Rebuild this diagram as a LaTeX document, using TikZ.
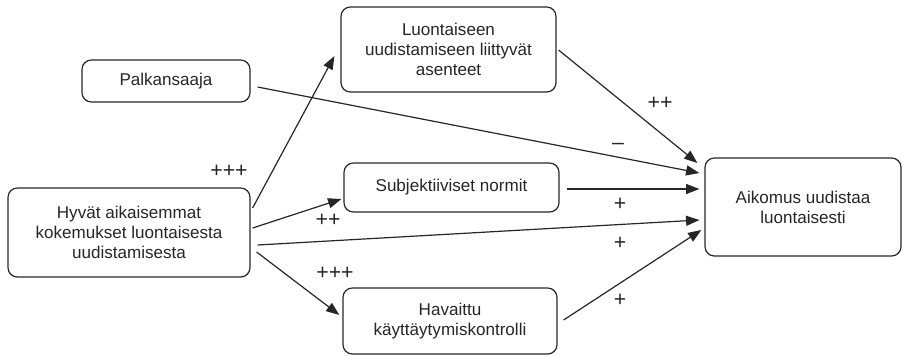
\documentclass[tikz,border=0pt]{standalone}
\usepackage{fontspec}
\setmainfont{Liberation Sans}
\usetikzlibrary{calc,arrows.meta}
\begin{document}
\begin{tikzpicture}[x=0.75pt,y=-0.75pt,
  box/.style={draw=black!85,line width=0.9pt,rounded corners=7pt,align=center,
    font=\fontsize{12.8}{15}\selectfont,text=black!85,inner sep=0pt},
  conn/.style={draw=black!85,line width=0.9pt,-{Triangle[length=10pt,width=7.5pt]}},
  lbl/.style={font=\fontsize{16}{18}\selectfont,text=black!85}]
\useasboundingbox (0,0) rectangle (903,355);
\node[box,minimum width=168*0.75pt,minimum height=42*0.75pt] (pal) at (166,81) {Palkansaaja};
\node[box,minimum width=215*0.75pt,minimum height=85*0.75pt] (luo) at (448.5,49.5) {Luontaiseen\\uudistamiseen liittyvät\\asenteet};
\node[box,minimum width=215*0.75pt,minimum height=49*0.75pt] (sub) at (451.5,187.5) {Subjektiiviset normit};
\node[box,minimum width=242*0.75pt,minimum height=89*0.75pt] (hyv) at (129,232.5) {Hyvät aikaisemmat\\kokemukset luontaisesta\\uudistamisesta};
\node[box,minimum width=214*0.75pt,minimum height=66*0.75pt] (hav) at (450,321) {Havaittu\\käyttäytymiskontrolli};
\node[box,minimum width=196*0.75pt,minimum height=98*0.75pt] (aik) at (803,207) {Aikomus uudistaa\\luontaisesti};

\draw[conn] ($(hyv.east)+(2,-24.5)$) -- ($(luo.west)+(-6,6.5)$);
\draw[conn] ($(hyv.east)+(2,-4.5)$) -- ($(sub.west)+(-2,11.5)$);
\draw[conn] ($(hyv.east)+(7,12.5)$) -- ($(aik.west)+(-5,13)$);
\draw[conn] ($(hyv.east)+(6,19.5)$) -- ($(hav.west)+(-3,-6)$);
\draw[conn] ($(pal.east)+(7,6)$) -- ($(aik.west)+(-5,-34)$);
\draw[conn] ($(luo.east)+(2,0.5)$) -- ($(aik.west)+(-7,-44)$);
\draw[conn] ($(sub.east)+(7,1.5)$) -- ($(aik.west)+(-5,-18)$);
\draw[conn] ($(hav.east)+(6,-1)$) -- ($(aik.west)+(-3,23)$);

\node[lbl] (l1) at (229,171) {+++};
\node[lbl] (l2) at (660,103) {++};
\node[lbl] (l3) at (618,146) {--};
\node[lbl] (l4) at (328,220) {++};
\node[lbl] (l5) at (620,204) {+};
\node[lbl] (l6) at (620,243) {+};
\node[lbl] (l7) at (335,273) {+++};
\node[lbl] (l8) at (620,300) {+};
\end{tikzpicture}
\end{document}
